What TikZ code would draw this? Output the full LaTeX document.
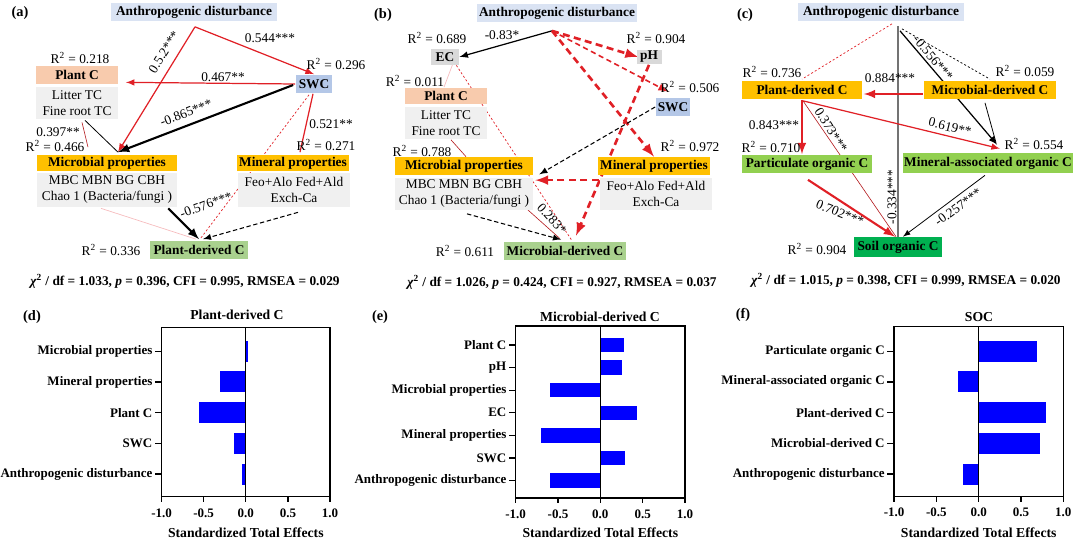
\documentclass[tikz,border=0pt]{standalone}
\usepackage{fontspec}
\setmainfont{Liberation Serif}
\usetikzlibrary{calc}

\definecolor{adblue}{RGB}{218,227,243}
\definecolor{swcblue}{RGB}{180,199,231}
\definecolor{plantorange}{RGB}{248,203,173}
\definecolor{propgold}{RGB}{255,192,0}
\definecolor{subgray}{RGB}{240,240,240}
\definecolor{ecgray}{RGB}{217,217,217}
\definecolor{carbgreen}{RGB}{169,209,142}
\definecolor{pocgreen}{RGB}{146,208,80}
\definecolor{socgreen}{RGB}{0,176,80}
\definecolor{pathred}{RGB}{224,32,38}
\definecolor{barblue}{RGB}{0,0,255}

\pgfdeclarelayer{edges}
\pgfsetlayers{edges,main}

\begin{document}
\begin{tikzpicture}[x=0.02cm, y=-0.02cm, >=latex,
    panel/.style={font=\fontsize{8.2}{9}\selectfont\bfseries, inner sep=0pt},
    varbox/.style={font=\fontsize{7.6}{9.1}\selectfont\bfseries, inner sep=0pt, minimum height=0.36cm},
    subbox/.style={fill=subgray, align=center, inner sep=0pt, font=\fontsize{7.6}{9.1}\selectfont},
    rsq/.style={font=\fontsize{7.6}{9}\selectfont, inner sep=0pt},
    coef/.style={font=\fontsize{7.6}{9}\selectfont, inner sep=0pt},
    fitstat/.style={font=\fontsize{7.6}{9}\selectfont\bfseries, inner sep=0pt},
    redline/.style={draw=pathred, line width=0.7pt},
    redthick/.style={draw=pathred, line width=1.2pt},
    redthin/.style={draw=pathred!80!black, line width=0.35pt},
    reddot/.style={draw=pathred, line width=0.4pt, dash pattern=on 1.2pt off 1.2pt},
    reddash/.style={draw=pathred, line width=1.5pt, dash pattern=on 4pt off 2.5pt},
    reddashmid/.style={draw=pathred, line width=0.9pt, dash pattern=on 3pt off 2pt},
    palered/.style={draw=pathred!30, line width=0.4pt},
    blackthick/.style={draw=black, line width=1.2pt},
    blackmid/.style={draw=black, line width=0.7pt},
    blackthin/.style={draw=black, line width=0.45pt},
    blackdash/.style={draw=black, line width=0.6pt, dash pattern=on 2.5pt off 1.5pt},
    blackdot/.style={draw=black, line width=0.4pt, dash pattern=on 1.2pt off 1.2pt},
    grayline/.style={draw=black!55, line width=0.7pt},
    chartline/.style={draw=black, line width=0.7pt},
    chtitle/.style={font=\fontsize{7.8}{9}\selectfont\bfseries, inner sep=0pt},
    catlab/.style={font=\fontsize{7.4}{9}\selectfont\bfseries, inner sep=1pt},
    ticklab/.style={font=\fontsize{7.4}{9}\selectfont\bfseries, inner sep=0pt}]
  \useasboundingbox (0,0) rectangle (1080,541);

  % 1. Panel (a)
  \node[panel] (tagA) at (20,13) {(a)};
  \node[varbox, fill=adblue, minimum width=3.32cm, minimum height=0.38cm] (adA) at (194,12) {Anthropogenic disturbance};
  \node[varbox, fill=plantorange, minimum width=1.66cm] (plantA) at (77,75) {Plant C};
  \node[subbox, minimum width=1.66cm, minimum height=0.64cm] (plantAsub) at (77,103) {Litter TC\\Fine root TC};
  \node[varbox, fill=swcblue, minimum width=0.74cm, minimum height=0.38cm] (swcA) at (314,84) {SWC};
  \node[varbox, fill=propgold, minimum width=2.8cm, minimum height=0.34cm] (microA) at (107,163) {Microbial properties};
  \node[subbox, minimum width=2.8cm, minimum height=0.68cm] (microAsub) at (107,190) {MBC MBN BG CBH\\Chao 1 (Bacteria/fungi )};
  \node[varbox, fill=propgold, minimum width=2.26cm, minimum height=0.34cm] (minA) at (293,163) {Mineral properties};
  \node[subbox, minimum width=2.24cm, minimum height=0.68cm] (minAsub) at (294,190) {Feo+Alo Fed+Ald\\Exch-Ca};
  \node[varbox, fill=carbgreen, minimum width=1.96cm, minimum height=0.38cm] (pdcA) at (199,250) {Plant-derived C};

  \begin{pgfonlayer}{edges}
    \coordinate (apexA) at ($(adA.south)+(1,5)$);
    \coordinate (inA) at ($(microA.north)+(11,-2)$);
    \draw[redline, ->] (apexA) -- (swcA.north);
    \draw[redline, ->] (apexA) -- (inA);
    \draw[redline, ->] (swcA.west) -- ($(plantA.south east)+(7,-2)$);
    \draw[blackthick, ->] ($(swcA.west)+(-2,1)$) -- (inA);
    \draw[blackthin] ($(plantAsub.south)+(8,1)$) -- (inA);
    \draw[redthin] ($(plantAsub.south)+(5,3)$) -- ($(microA.north)+(-19,-7)$);
    \draw[redline] ($(swcA.south)+(-1,0)$) -- ($(minA.north)+(7,-2)$);
    \draw[reddot] ($(swcA.south)+(-5,1)$) -- ($(pdcA.north)+(1,-1)$);
    \draw[blackdash, ->] ($(minAsub.south)+(4,5)$) -- ($(pdcA.north)+(4,-1)$);
    \draw[blackthick, ->] ($(microAsub.south east)+(-9,1)$) -- ($(pdcA.north)+(0,-1)$);
    \draw[palered] ($(microAsub.south)+(-6,1)$) -- ($(pdcA.north)+(-3,-1)$);
  \end{pgfonlayer}

  \node[coef, rotate=58] (cA1) at (164,52) {0.5.2***};
  \node[coef] (cA2) at (270,38) {0.544***};
  \node[rsq] (rA1) at (80,58) {R\textsuperscript{2} = 0.218};
  \node[rsq] (rA2) at (336,64) {R\textsuperscript{2} = 0.296};
  \node[coef] (cA3) at (223,77) {0.467**};
  \node[coef, rotate=21] (cA4) at (186,113) {-0.865***};
  \node[coef] (cA5) at (58,132) {0.397**};
  \node[rsq] (rA3) at (55,146) {R\textsuperscript{2} = 0.466};
  \node[coef] (cA6) at (331,124) {0.521**};
  \node[rsq] (rA4) at (326,145) {R\textsuperscript{2} = 0.271};
  \node[coef, rotate=20] (cA7) at (206,205) {-0.576***};
  \node[rsq] (rA5) at (111,250) {R\textsuperscript{2} = 0.336};
  \node[fitstat] (fitA) at (185,281) {{\itshape χ}\textsuperscript{2} / df = 1.033, {\itshape p} = 0.396, CFI = 0.995, RMSEA = 0.029};

  % 2. Panel (b)
  \node[panel] (tagB) at (383,15) {(b)};
  \node[varbox, fill=adblue, minimum width=3.22cm, minimum height=0.38cm] (adB) at (557,13) {Anthropogenic disturbance};
  \node[varbox, fill=ecgray, minimum width=0.56cm, minimum height=0.32cm] (ecB) at (445,57) {EC};
  \node[varbox, fill=ecgray, minimum width=0.5cm, minimum height=0.3cm] (phB) at (649,57) {pH};
  \node[varbox, fill=plantorange, minimum width=1.66cm, minimum height=0.34cm] (plantB) at (446,96) {Plant C};
  \node[subbox, minimum width=1.66cm, minimum height=0.66cm] (plantBsub) at (446,123) {Litter TC\\Fine root TC};
  \node[varbox, fill=swcblue, minimum width=0.7cm, minimum height=0.36cm] (swcB) at (673,107) {SWC};
  \node[varbox, fill=propgold, minimum width=2.76cm, minimum height=0.36cm] (microB) at (464,166) {Microbial properties};
  \node[subbox, minimum width=2.76cm, minimum height=0.66cm] (microBsub) at (464,194) {MBC MBN BG CBH\\Chao 1 (Bacteria/fungi )};
  \node[varbox, fill=propgold, minimum width=2.24cm, minimum height=0.36cm] (minB) at (654,166) {Mineral properties};
  \node[subbox, minimum width=2.24cm, minimum height=0.66cm] (minBsub) at (656,194) {Feo+Alo Fed+Ald\\Exch-Ca};
  \node[varbox, fill=carbgreen, minimum width=2.46cm, minimum height=0.36cm] (mdcB) at (565,251) {Microbial-derived C};

  \begin{pgfonlayer}{edges}
    \coordinate (apexB) at ($(adB.south)+(-5,8)$);
    \draw[blackmid, ->] (apexB) -- (ecB.east);
    \draw[reddash, ->] (apexB) -- ($(phB.west)+(2,0)$);
    \draw[reddashmid, ->] (apexB) -- ($(swcB.north)+(-5,-6)$);
    \draw[reddash, ->] (apexB) -- (minB.north);
    \draw[reddash, ->] (phB.south) -- ($(mdcB.north)+(11,-6)$);
    \draw[blackdash, ->] (swcB.west) -- ($(microB.south east)+(6,-1)$);
    \draw[reddash, ->] ($(minBsub.north west)+(-1,3)$) -- ($(microBsub.north east)+(2,3)$);
    \draw[reddot] ($(ecB.south east)+(-3,0)$) -- ($(mdcB.north)+(7,-1)$);
    \draw[palered] ($(ecB.south)+(8,-2)$) -- ($(plantB.north)+(-2,0)$);
    \draw[redthin] ($(plantBsub.south)+(5,0)$) -- ($(microB.north)+(2,0)$);
    \draw[redthin] ($(microBsub.south east)+(-10,-5)$) -- ($(mdcB.north)+(-5,-3)$);
    \draw[blackdash, ->] ($(microBsub.south)+(3,3)$) -- ($(mdcB.north)+(-4,-2)$);
  \end{pgfonlayer}

  \node[rsq] (rB1) at (437,38) {R\textsuperscript{2} = 0.689};
  \node[coef] (cB1) at (502,35) {-0.83*};
  \node[rsq] (rB2) at (656,38) {R\textsuperscript{2} = 0.904};
  \node[rsq] (rB3) at (415,81) {R\textsuperscript{2} = 0.011};
  \node[rsq] (rB4) at (690,87) {R\textsuperscript{2} = 0.506};
  \node[rsq] (rB5) at (422,151) {R\textsuperscript{2} = 0.788};
  \node[rsq] (rB6) at (690,146) {R\textsuperscript{2} = 0.972};
  \node[coef, rotate=-48] (cB2) at (552,219) {0.283*};
  \node[rsq] (rB7) at (465,251) {R\textsuperscript{2} = 0.611};
  \node[fitstat] (fitB) at (562,282) {{\itshape χ}\textsuperscript{2} / df = 1.026, {\itshape p} = 0.424, CFI = 0.927, RMSEA = 0.037};

  % 3. Panel (c)
  \node[panel] (tagC) at (745,15) {(c)};
  \node[varbox, fill=adblue, minimum width=3.34cm, minimum height=0.38cm] (adC) at (881,12) {Anthropogenic disturbance};
  \node[varbox, fill=propgold, minimum width=2.42cm, minimum height=0.38cm] (pdcC) at (802,90) {Plant-derived C};
  \node[varbox, fill=propgold, minimum width=2.66cm, minimum height=0.38cm] (mdcC) at (990,90) {Microbial-derived C};
  \node[varbox, fill=pocgreen, minimum width=2.6cm, minimum height=0.38cm] (pocC) at (807,164) {Particulate organic C};
  \node[varbox, fill=pocgreen, minimum width=3.42cm, minimum height=0.4cm] (maocC) at (988,163) {Mineral-associated organic C};
  \node[varbox, fill=socgreen, minimum width=1.78cm, minimum height=0.4cm] (socC) at (898,247) {Soil organic C};

  \begin{pgfonlayer}{edges}
    \draw[grayline] ($(adC.south)+(17,4)$) -- (socC.north);
    \draw[reddot] ($(adC.south)+(11,2)$) -- ($(pdcC.north)+(0,-1)$);
    \draw[blackdot] ($(adC.south)+(21,7)$) -- ($(mdcC.north)+(0,-1)$);
    \draw[blackmid, ->] ($(adC.south)+(19,9)$) -- ($(maocC.north)+(9,-8)$);
    \draw[redthick, ->] ($(mdcC.west)+(0,4)$) -- ($(pdcC.east)+(1,4)$);
    \draw[redthick, ->] (pdcC.south) -- (pdcC.south |- pocC.north);
    \draw[redthin] ($(pdcC.south)+(1,1)$) -- ($(socC.north)+(-2,0)$);
    \draw[redline, ->] ($(pdcC.south)+(1,1)$) -- ($(maocC.north)+(12,-4)$);
    \draw[blackthin] ($(mdcC.south)+(-5,3)$) -- ($(maocC.north)+(8,-10)$);
    \draw[redthick, ->] ($(pocC.south)+(1,6)$) -- ($(socC.north)+(-3,0)$);
    \draw[blackthin, ->] ($(maocC.south)+(-3,2)$) -- ($(socC.north)+(5,0)$);
  \end{pgfonlayer}

  \node[rsq] (rC1) at (772,72) {R\textsuperscript{2} = 0.736};
  \node[coef] (cC1) at (890,78) {0.884***};
  \node[rsq] (rC2) at (1025,71) {R\textsuperscript{2} = 0.059};
  \node[coef, rotate=-50] (cC2) at (933,58) {-0.556***};
  \node[coef] (cC3) at (774,125) {0.843***};
  \node[rsq] (rC3) at (771,147) {R\textsuperscript{2} = 0.710};
  \node[coef, rotate=-58] (cC4) at (831,130) {0.373***};
  \node[coef, rotate=-14] (cC5) at (950,127) {0.619**};
  \node[rsq] (rC4) at (1034,144) {R\textsuperscript{2} = 0.554};
  \node[coef, rotate=-22] (cC6) at (840,213) {0.702***};
  \node[coef, rotate=90] (cC7) at (892,197) {-0.334***};
  \node[coef, rotate=36] (cC8) at (958,207) {-0.257***};
  \node[rsq] (rC5) at (817,249) {R\textsuperscript{2} = 0.904};
  \node[fitstat] (fitC) at (906,280) {{\itshape χ}\textsuperscript{2} / df = 1.015, {\itshape p} = 0.398, CFI = 0.999, RMSEA = 0.020};

  % 4. Chart (d)
  \node[panel] (tagD) at (32,317) {(d)};
  \node[chtitle] (titleD) at (237,315) {Plant-derived C};
  \foreach \lab/\val [count=\k from 0] in {Microbial properties/0.03, Mineral properties/-0.31, Plant C/-0.55, SWC/-0.14, Anthropogenic disturbance/-0.05}
  {
    \fill[barblue] (245.8,{340.7+30.7*\k}) rectangle ({245.8+84.2*(\val)},{361.7+30.7*\k});
    \draw[chartline] (161.7,{351.2+30.7*\k}) -- ++(-7,0) node[catlab, left] (catD\k) {\lab};
  }
  \draw[chartline] (161.7,327.7) rectangle (330,496.7);
  \draw[chartline] (245.8,327.7) -- (245.8,496.7);
  \foreach \t/\tl [count=\k] in {-1/-1.0, -0.5/-0.5, 0/0.0, 0.5/0.5, 1/1.0}
  {
    \draw[chartline] ({245.8+84.2*(\t)},496.7) -- ++(0,5);
    \node[ticklab] (tickD\k) at ({245.8+84.2*(\t)},513) {\tl};
  }
  \node[chtitle] (xlabD) at (245.8,533) {Standardized Total Effects};

  % 5. Chart (e)
  \node[panel] (tagE) at (380,317) {(e)};
  \node[chtitle] (titleE) at (600,317) {Microbial-derived C};
  \foreach \lab/\val [count=\k from 0] in {Plant C/0.275, pH/0.26, Microbial properties/-0.6, EC/0.43, Mineral properties/-0.70, SWC/0.29, Anthropogenic disturbance/-0.59}
  {
    \fill[barblue] (600.3,{337.8+22.58*\k}) rectangle ({600.3+84.65*(\val)},{352.2+22.58*\k});
    \draw[chartline] (515.7,{345+22.58*\k}) -- ++(-7,0) node[catlab, left] (catE\k) {\lab};
  }
  \draw[chartline] (515.7,326) rectangle (685,498);
  \draw[chartline] (600.3,326) -- (600.3,498);
  \foreach \t/\tl [count=\k] in {-1/-1.0, -0.5/-0.5, 0/0.0, 0.5/0.5, 1/1.0}
  {
    \draw[chartline] ({600.3+84.65*(\t)},498) -- ++(0,5);
    \node[ticklab] (tickE\k) at ({600.3+84.65*(\t)},514) {\tl};
  }
  \node[chtitle] (xlabE) at (600.3,533) {Standardized Total Effects};

  % 6. Chart (f)
  \node[panel] (tagF) at (743,315) {(f)};
  \node[chtitle] (titleF) at (979,317) {SOC};
  \foreach \lab/\val [count=\k from 0] in {Particulate organic C/0.69, Mineral-associated organic C/-0.25, Plant-derived C/0.80, Microbial-derived C/0.73, Anthropogenic disturbance/-0.19}
  {
    \fill[barblue] (978.7,{340.7+30.7*\k}) rectangle ({978.7+84.65*(\val)},{361.7+30.7*\k});
    \draw[chartline] (894,{351.2+30.7*\k}) -- ++(-7,0) node[catlab, left] (catF\k) {\lab};
  }
  \draw[chartline] (894,326.7) rectangle (1063.3,496.7);
  \draw[chartline] (978.7,326.7) -- (978.7,496.7);
  \foreach \t/\tl [count=\k] in {-1/-1.0, -0.5/-0.5, 0/0.0, 0.5/0.5, 1/1.0}
  {
    \draw[chartline] ({978.7+84.65*(\t)},496.7) -- ++(0,5);
    \node[ticklab] (tickF\k) at ({978.7+84.65*(\t)},512) {\tl};
  }
  \node[chtitle] (xlabF) at (978.7,533) {Standardized Total Effects};
\end{tikzpicture}
\end{document}
